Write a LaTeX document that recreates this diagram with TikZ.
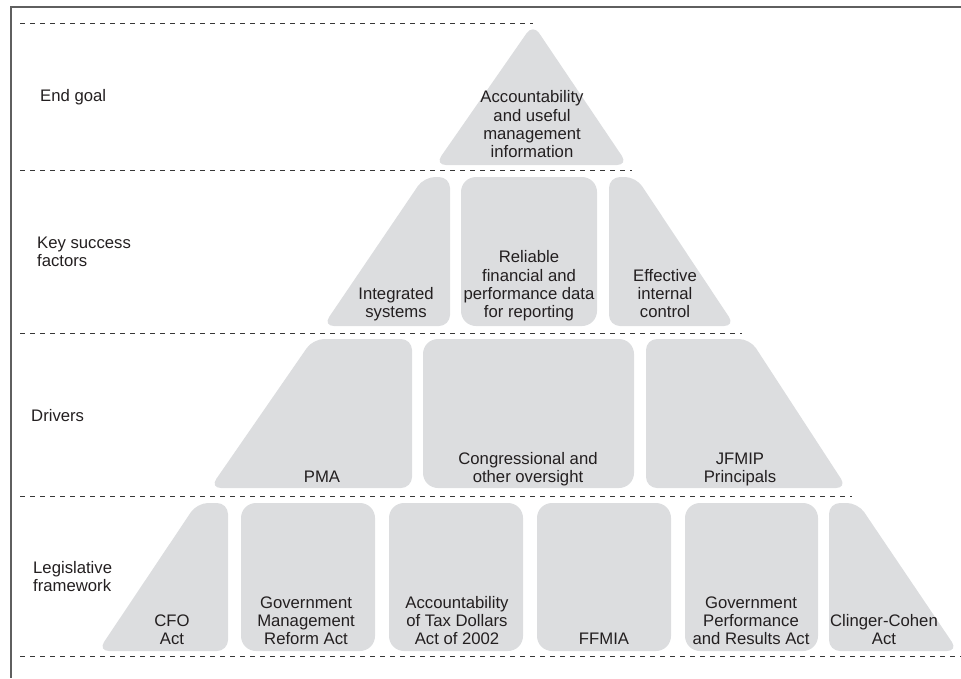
\documentclass[tikz,border=0pt]{standalone}
\usepackage{fontspec}
\setmainfont{Liberation Sans}
\definecolor{boxfill}{RGB}{220,221,223}
\definecolor{txt}{RGB}{35,31,32}
\definecolor{rulecol}{RGB}{55,55,55}
\definecolor{framecol}{RGB}{95,95,95}
\begin{document}
\begin{tikzpicture}[x=1pt,y=-1pt,
  lbl/.style={font=\fontsize{16.7}{18.3}\selectfont, text=txt, align=center, inner sep=0pt, anchor=south, text depth=0pt},
  side/.style={lbl, align=left, anchor=south west},
  tier/.style={fill=boxfill, rounded corners=11pt},
  rbox/.style={fill=boxfill, rounded corners=15pt},
  sep/.style={draw=rulecol, line width=1pt, dash pattern=on 4.5pt off 5.5pt},
  framel/.style={draw=framecol, line width=1.4pt}
]
\useasboundingbox (0,0) rectangle (961,678);

% frame
\draw[framel] (961,7) -- (11,7) -- (11,678);

% dashed separators
\draw[sep] (20,23) -- (533,23);
\draw[sep] (20,170) -- (632,170);
\draw[sep] (20,333) -- (742,333);
\draw[sep] (20,496) -- (852,496);
\draw[sep] (20,656) -- (961,656);

% level 1
\fill[tier] (435,165) -- (533,24) -- (628,165) -- cycle;

% level 2
\fill[tier] (323,326) -- (424,177) -- (450,177) -- (450,326) -- cycle;
\fill[rbox] (461,177) rectangle (597,326);
\fill[tier] (609,177) -- (636,177) -- (735,326) -- (609,326) -- cycle;

% level 3
\fill[tier] (210,488) -- (313,339) -- (412,339) -- (412,488) -- cycle;
\fill[rbox] (423,339) rectangle (634,488);
\fill[tier] (646,339) -- (750,339) -- (847,488) -- (646,488) -- cycle;

% level 4
\fill[tier] (98,651) -- (197,503) -- (228,503) -- (228,651) -- cycle;
\fill[rbox] (241,503) rectangle (375,651);
\fill[rbox] (389,503) rectangle (523,651);
\fill[rbox] (537,503) rectangle (671,651);
\fill[rbox] (685,503) rectangle (818,651);
\fill[tier] (829,503) -- (858,503) -- (958,651) -- (829,651) -- cycle;

% texts in shapes
\node[lbl] (goal) at (532,158) {Accountability\\and useful\\management\\information};
\node[lbl] (integ) at (396,318) {Integrated\\systems};
\node[lbl] (reliable) at (529,318) {Reliable\\financial and\\performance data\\for reporting};
\node[lbl] (internal) at (665,318) {Effective\\internal\\control};
\node[lbl] (pma) at (322,483) {PMA};
\node[lbl] (cong) at (528,483) {Congressional and\\other oversight};
\node[lbl] (jfmip) at (740,483) {JFMIP\\Principals};
\node[lbl] (cfo) at (172,645) {CFO\\Act};
\node[lbl] (gmra) at (306,645) {Government\\Management\\Reform Act};
\node[lbl] (atda) at (457,645) {Accountability\\of Tax Dollars\\Act of 2002};
\node[lbl] (ffmia) at (604,645) {FFMIA};
\node[lbl] (gpra) at (751,645) {Government\\Performance\\and Results Act};
\node[lbl] (cc) at (884,645) {Clinger-Cohen\\Act};

% side labels
\node[side] (endgoal) at (40,102) {End goal};
\node[side] (ksf) at (37,267) {Key success\\factors};
\node[side] (drivers) at (31,422) {Drivers};
\node[side] (legis) at (33,592) {Legislative\\framework};
\end{tikzpicture}
\end{document}
